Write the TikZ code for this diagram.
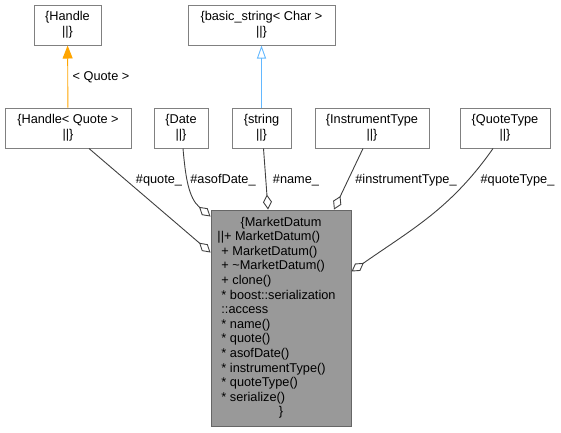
\documentclass[tikz,border=0pt]{standalone}
\usepackage{fontspec}
\setmainfont{Liberation Sans}
\usetikzlibrary{arrows.meta}

\definecolor{boxline}{HTML}{808080}
\definecolor{curline}{HTML}{666666}
\definecolor{curfill}{HTML}{999999}
\definecolor{useline}{HTML}{404040}
\definecolor{tmplline}{HTML}{FFA500}
\definecolor{inhline}{HTML}{63B8FF}

\tikzset{
  cls/.style={draw=boxline, fill=white, line width=1pt, inner sep=0pt,
    minimum height=40pt, minimum width=#1, align=center},
  usage/.style={draw=useline, line width=0.9pt, -{Diamond[open, length=15pt, width=9pt]}},
}

\begin{document}
\begin{tikzpicture}[x=1pt,y=1pt,>=Stealth,font=\fontsize{12.75}{14.6}\selectfont]
	\useasboundingbox (0,0) rectangle (561,-432);
	
	\node[cls=67pt] (handle) at (67.5,-25) {\{Handle\\||\}};
	\node[cls=147pt] (basicstr) at (261.5,-25) {\{basic\_string< Char >\\||\}};
	
	\node[cls=126pt] (handleq) at (68,-128) {\{Handle< Quote >\\||\}};
	\node[cls=54pt] (date) at (181,-128) {\{Date\\||\}};
	\node[cls=59pt] (str) at (261.5,-128) {\{string\\||\}};
	\node[cls=114pt] (insttype) at (372,-128) {\{InstrumentType\\||\}};
	\node[cls=90pt] (quotetype) at (505,-128) {\{QuoteType\\||\}};
	
	\node[draw=curline, fill=curfill, line width=1pt, inner sep=0pt,
		minimum width=140pt, minimum height=216pt] (datum) at (281,-318) {%
		\begin{tabular}{@{}l@{\hspace{5pt}}}
			\multicolumn{1}{@{}c@{}}{\{MarketDatum}\\
			\hspace*{-4pt}||+ MarketDatum()\\
			+ MarketDatum()\\
			+ \textasciitilde MarketDatum()\\
			+ clone()\\
			{*} boost::serialization\\
			::access\\
			{*} name()\\
			{*} quote()\\
			{*} asofDate()\\
			{*} instrumentType()\\
			{*} quoteType()\\
			{*} serialize()\\
			\multicolumn{1}{@{}c@{}}{\}}
		\end{tabular}};
	
	% template instance and inheritance
	\draw[tmplline, line width=0.9pt, -{Triangle[length=13pt, width=10pt]}] (handleq) -- (handle);
	\node[anchor=base] (tmpllabel) at (101,-80) {< Quote >};
	\draw[inhline, line width=0.9pt, -{Triangle[open, length=13pt, width=9pt]}] (str) -- (basicstr);
	
	% members
	\draw[usage] ([xshift=21pt]handleq.south) -- ([yshift=-43pt]datum.north west);
	\draw[usage] ([xshift=2pt]date.south) to[out=-85, in=140] ([yshift=-7pt]datum.north west);
	\draw[usage] ([xshift=2pt]str.south) -- ([xshift=-13pt]datum.north);
	\draw[usage] ([xshift=-9pt]insttype.south) -- ([xshift=53pt]datum.north);
	\draw[usage] ([xshift=-12pt]quotetype.south) to[out=-125, in=35] ([yshift=-62pt]datum.north east);
	
	\node[anchor=base] (quotelabel) at (159,-183) {\#quote\_};
	\node[anchor=base] (datelabel) at (223,-183) {\#asofDate\_};
	\node[anchor=base] (namelabel) at (296,-183) {\#name\_};
	\node[anchor=base] (instlabel) at (406,-183) {\#instrumentType\_};
	\node[anchor=base] (qtypelabel) at (517.5,-183) {\#quoteType\_};
\end{tikzpicture}
\end{document}
